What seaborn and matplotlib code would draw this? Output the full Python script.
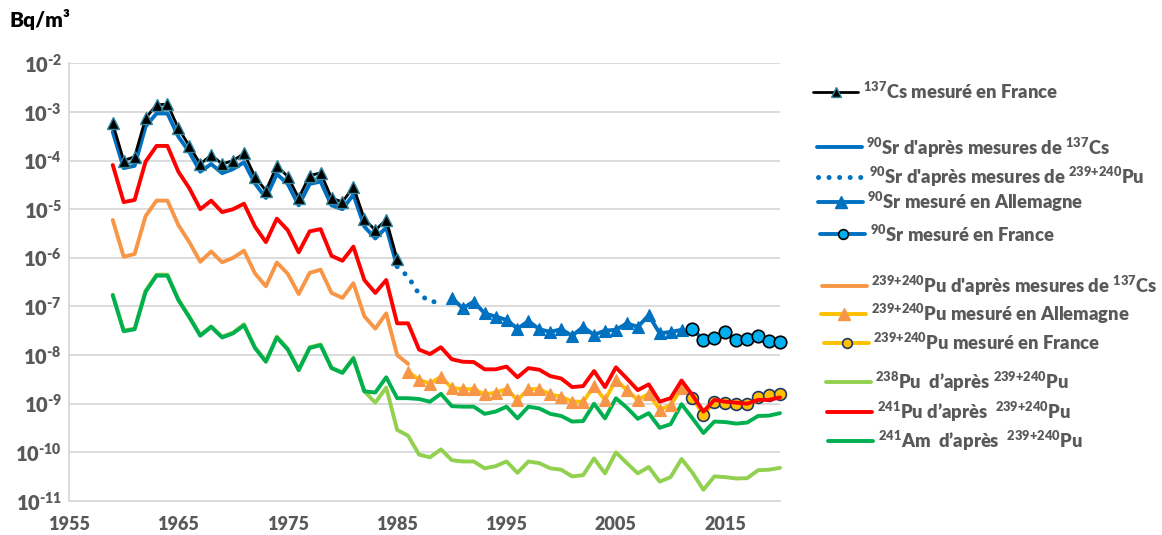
import numpy as np
import pandas as pd
import matplotlib
matplotlib.use("Agg")
import matplotlib.pyplot as plt
from matplotlib.lines import Line2D
import seaborn as sns

# ---------------- data ----------------
years_cs = list(range(1959, 1986))
cs137_france = [5.8e-4, 1.0e-4, 1.2e-4, 7.4e-4, 1.4e-3, 1.45e-3, 4.6e-4, 2.0e-4, 8.5e-5, 1.3e-4,
                8.5e-5, 1.0e-4, 1.4e-4, 4.7e-5, 2.4e-5, 7.8e-5, 4.7e-5, 1.7e-5, 4.9e-5, 5.6e-5,
                1.7e-5, 1.4e-5, 2.9e-5, 6.3e-6, 3.7e-6, 6.1e-6, 9.3e-7]
sr90_from_cs = [3.9e-4, 7.0e-5, 7.8e-5, 5.0e-4, 9.3e-4, 9.3e-4, 3.1e-4, 1.5e-4, 5.9e-5, 8.5e-5,
                5.5e-5, 6.7e-5, 9.2e-5, 3.4e-5, 1.7e-5, 5.3e-5, 3.3e-5, 1.2e-5, 3.3e-5, 3.7e-5,
                1.2e-5, 1.0e-5, 2.0e-5, 4.4e-6, 2.5e-6, 4.2e-6, 6.6e-7]

years_sr_pu = list(range(1985, 1990))
sr90_from_pu = [6.6e-7, 4.1e-7, 1.8e-7, 1.25e-7, 1.25e-7]

years_de = list(range(1990, 2012))
sr90_germany = [1.5e-7, 9.2e-8, 1.26e-7, 7.2e-8, 6.2e-8, 5.3e-8, 3.5e-8, 5.0e-8, 3.4e-8, 3.0e-8,
                3.4e-8, 2.5e-8, 3.8e-8, 2.6e-8, 3.2e-8, 3.3e-8, 4.5e-8, 3.8e-8, 6.6e-8, 2.8e-8,
                3.0e-8, 3.3e-8]

years_fr = list(range(2012, 2021))
sr90_france = [3.5e-8, 2.0e-8, 2.3e-8, 3.0e-8, 2.0e-8, 2.1e-8, 2.5e-8, 1.95e-8, 1.9e-8]

years_pu_cs = list(range(1959, 1987))
pu_from_cs = [6.0e-6, 1.05e-6, 1.2e-6, 7.2e-6, 1.5e-5, 1.5e-5, 4.7e-6, 2.1e-6, 8.3e-7, 1.35e-6,
              8.1e-7, 1.0e-6, 1.4e-6, 4.8e-7, 2.6e-7, 8.0e-7, 4.7e-7, 1.8e-7, 4.9e-7, 5.7e-7,
              1.9e-7, 1.5e-7, 3.0e-7, 6.3e-8, 3.5e-8, 7.2e-8, 1.0e-8, 6.6e-9]

years_pu_de = list(range(1986, 2012))
pu_germany = [4.6e-9, 3.1e-9, 2.6e-9, 3.6e-9, 2.1e-9, 2.0e-9, 2.0e-9, 1.55e-9, 1.7e-9, 2.0e-9,
              1.2e-9, 2.0e-9, 2.0e-9, 1.55e-9, 1.4e-9, 1.1e-9, 1.1e-9, 2.3e-9, 1.2e-9, 3.1e-9,
              1.9e-9, 1.2e-9, 1.6e-9, 7.6e-10, 9.3e-10, 2.1e-9]

pu_france = [1.3e-9, 5.9e-10, 1.1e-9, 1.05e-9, 9.8e-10, 9.8e-10, 1.4e-9, 1.5e-9, 1.6e-9]

years_all = list(range(1959, 2021))
pu241 = [8.1e-5, 1.4e-5, 1.55e-5, 9.5e-5, 2.0e-4, 2.0e-4, 5.9e-5, 2.7e-5, 1.0e-5, 1.5e-5,
         8.7e-6, 1.0e-5, 1.3e-5, 4.4e-6, 2.1e-6, 6.4e-6, 3.7e-6, 1.3e-6, 3.5e-6, 3.9e-6,
         1.1e-6, 8.7e-7, 1.7e-6, 3.5e-7, 1.9e-7, 3.5e-7, 4.5e-8,
         4.5e-8, 1.3e-8, 1.05e-8, 1.45e-8, 8.2e-9, 7.3e-9, 7.2e-9, 5.1e-9, 5.1e-9, 5.8e-9,
         3.5e-9, 5.4e-9, 5.0e-9, 3.7e-9, 3.3e-9, 2.2e-9, 2.3e-9, 4.7e-9, 2.2e-9, 5.6e-9,
         3.3e-9, 1.9e-9, 2.5e-9, 1.1e-9, 1.3e-9, 3.0e-9, 1.5e-9, 6.9e-10, 1.2e-9, 1.1e-9,
         1.05e-9, 1.0e-9, 1.2e-9, 1.2e-9, 1.35e-9]
am241 = [1.7e-7, 3.1e-8, 3.4e-8, 2.0e-7, 4.3e-7, 4.3e-7, 1.35e-7, 6.0e-8, 2.5e-8, 3.8e-8,
         2.3e-8, 2.8e-8, 4.1e-8, 1.4e-8, 7.3e-9, 2.3e-8, 1.3e-8, 4.9e-9, 1.4e-8, 1.6e-8,
         5.4e-9, 4.3e-9, 8.5e-9,
         1.8e-9, 1.7e-9, 3.5e-9, 1.3e-9, 1.3e-9, 1.25e-9, 1.1e-9, 1.6e-9, 8.9e-10, 8.7e-10,
         8.7e-10, 6.2e-10, 6.9e-10, 8.7e-10, 5.0e-10, 8.7e-10, 8.0e-10, 6.2e-10, 5.6e-10, 4.3e-10,
         4.4e-10, 1.0e-9, 5.0e-10, 1.3e-9, 8.3e-10, 4.9e-10, 6.4e-10, 3.2e-10, 3.8e-10, 9.8e-10,
         5.0e-10, 2.5e-10, 4.3e-10, 4.2e-10, 3.9e-10, 4.1e-10, 5.6e-10, 5.7e-10, 6.4e-10]
pu238 = [1.75e-7, 3.2e-8, 3.5e-8, 2.1e-7, 4.5e-7, 4.5e-7, 1.4e-7, 6.2e-8, 2.6e-8, 3.9e-8,
         2.4e-8, 2.9e-8, 4.3e-8, 1.45e-8, 7.5e-9, 2.4e-8, 1.35e-8, 5.0e-9, 1.45e-8, 1.65e-8,
         5.5e-9, 4.4e-9, 8.8e-9,
         1.8e-9, 1.05e-9, 2.15e-9, 2.9e-10, 2.2e-10, 9.0e-11, 7.9e-11, 1.15e-10, 6.9e-11, 6.5e-11,
         6.5e-11, 4.7e-11, 5.2e-11, 6.5e-11, 3.8e-11, 6.5e-11, 6.0e-11, 4.7e-11, 4.4e-11, 3.2e-11,
         3.4e-11, 7.5e-11, 3.7e-11, 1.0e-10, 6.0e-11, 3.7e-11, 5.0e-11, 2.5e-11, 3.1e-11, 7.3e-11,
         3.8e-11, 1.7e-11, 3.2e-11, 3.1e-11, 2.9e-11, 2.95e-11, 4.3e-11, 4.4e-11, 4.8e-11]

x_ticks = [1955, 1965, 1975, 1985, 1995, 2005, 2015]
y_exponents = [-2, -3, -4, -5, -6, -7, -8, -9, -10, -11]

legend_labels = [
    r"$^{137}$Cs mesuré en France",
    r"$^{90}$Sr d'après mesures de $^{137}$Cs",
    r"$^{90}$Sr d'après mesures de $^{239{+}240}$Pu",
    r"$^{90}$Sr mesuré en Allemagne",
    r"$^{90}$Sr mesuré en France",
    r"$^{239{+}240}$Pu d'après mesures de $^{137}$Cs",
    r"$^{239{+}240}$Pu mesuré en Allemagne",
    r"$^{239{+}240}$Pu mesuré en France",
    r"$^{238}$Pu  d’après $^{239{+}240}$Pu",
    r"$^{241}$Pu d’après  $^{239{+}240}$Pu",
    r"$^{241}$Am  d’après  $^{239{+}240}$Pu",
]

# ---------------- style ----------------
sns.set_style("white")
FONT = 'Lato'
WEIGHT = 'heavy'
plt.rcParams['font.family'] = [FONT, 'DejaVu Sans']
plt.rcParams['font.weight'] = WEIGHT
plt.rcParams['mathtext.fontset'] = 'custom'
for k in ['rm', 'it', 'bf', 'sf']:
    plt.rcParams['mathtext.' + k] = FONT + ':bold'
plt.rcParams['mathtext.default'] = 'regular'

GRAY = '#595959'
GRID = '#D9D9D9'
W, H = 1162, 535

fig = plt.figure(figsize=(W / 100, H / 100), dpi=100)
ax = fig.add_axes([69 / W, 1 - 501 / H, (780 - 69) / W, (501 - 63.3) / H])

def series(xs, ys):
    return pd.DataFrame({"year": xs, "value": ys})

common = dict(x="year", y="value", ax=ax, estimator=None, sort=False, errorbar=None,
              clip_on=False, solid_joinstyle='round', solid_capstyle='round')

# draw order (back to front)
sns.lineplot(data=series(years_all, pu238), color='#92D050', lw=2.8, **common)
sns.lineplot(data=series(years_all, am241), color='#00B050', lw=2.8, **common)
sns.lineplot(data=series(years_pu_cs, pu_from_cs), color='#F79646', lw=2.8, **common)
sns.lineplot(data=series(years_pu_de, pu_germany), color='#FFC000', lw=2.8,
             marker='^', markersize=9, markerfacecolor='#F79646',
             markeredgecolor='#F79646', markeredgewidth=0.8, **common)
sns.lineplot(data=series(years_fr, pu_france), color='#FFC000', lw=2.8,
             marker='o', markersize=8.5, markerfacecolor='#FFC000',
             markeredgecolor='#1F3864', markeredgewidth=1.2, **common)
sns.lineplot(data=series(years_all, pu241), color='#FF0000', lw=2.8, **common)
sns.lineplot(data=series(years_cs, sr90_from_cs), color='#0070C0', lw=2.8, **common)
sns.lineplot(data=series(years_sr_pu, sr90_from_pu), color='#0070C0', lw=3.6,
             dashes=[0.01, 2.1], dash_capstyle='round', **common)
sns.lineplot(data=series(years_de, sr90_germany), color='#0070C0', lw=2.8,
             marker='^', markersize=9, markerfacecolor='#0070C0',
             markeredgecolor='#0070C0', markeredgewidth=0.8, **common)
sns.lineplot(data=series(years_fr, sr90_france), color='#0070C0', lw=2.8,
             marker='o', markersize=9, markerfacecolor='#00B0F0',
             markeredgecolor='black', markeredgewidth=1.2, **common)
sns.lineplot(data=series(years_cs, cs137_france), color='black', lw=2.0,
             marker='^', markersize=9, markerfacecolor='black',
             markeredgecolor='#31859C', markeredgewidth=1.0, **common)

# ---------------- axes ----------------
ax.set_yscale('log')
ax.set_ylim(1e-11, 1e-2)
ax.set_xlim(1955, 2020)
ax.set_xlabel('')
ax.set_ylabel('')
ax.set_yticks([10.0 ** e for e in y_exponents])
ax.set_yticklabels(["$10^{\u2010%d}$" % (-e) for e in y_exponents])
ax.yaxis.set_minor_locator(matplotlib.ticker.NullLocator())
ax.set_xticks(x_ticks)
ax.set_xticklabels([str(t) for t in x_ticks])
ax.tick_params(axis='y', length=0, pad=5, labelsize=14.5, labelcolor=GRAY)
ax.tick_params(axis='x', direction='in', length=7, width=1.2, color=GRID,
               pad=11, labelsize=13, labelcolor=GRAY)
for lab in ax.get_xticklabels() + ax.get_yticklabels():
    lab.set_fontweight(WEIGHT)
ax.yaxis.grid(True, color=GRID, lw=1.3)
ax.xaxis.grid(False)
for side in ['top', 'right']:
    ax.spines[side].set_visible(False)
for side in ['left', 'bottom']:
    ax.spines[side].set_color(GRID)
    ax.spines[side].set_linewidth(1.3)
ax.set_axisbelow(True)

fig.text(10 / W, 1 - 20 / H, "Bq/m³", fontsize=15, fontweight=WEIGHT, color='black',
         va='center', ha='left')

# ---------------- legend (hand-placed like the original) ----------------
entries = [
    # y, x0, text_x, style
    (91.7, 813, 863, dict(color='black', lw=2.0, marker='^', ms=7, mfc='black', mec='#31859C')),
    (147.3, 817, 866, dict(color='#0070C0', lw=2.8)),
    (176.7, 818, 869, dict(color='#0070C0', lw=3.6, dashes=[0.01, 2.1], dash_capstyle='round')),
    (201.7, 818, 867, dict(color='#0070C0', lw=2.8, marker='^', ms=8, mfc='#0070C0', mec='#0070C0')),
    (234.3, 820, 870, dict(color='#0070C0', lw=2.8, marker='o', ms=7, mfc='#00B0F0', mec='black', mew=1.2)),
    (285.7, 822, 871, dict(color='#F79646', lw=2.8)),
    (314.0, 821, 871, dict(color='#FFC000', lw=2.8, marker='^', ms=8, mfc='#F79646', mec='#F79646')),
    (343.3, 824, 873, dict(color='#FFC000', lw=2.8, marker='o', ms=7, mfc='#FFC000', mec='#1F3864', mew=1.2)),
    (381.7, 826, 875, dict(color='#92D050', lw=2.8)),
    (411.7, 827, 877, dict(color='#FF0000', lw=2.8)),
    (440.7, 828, 878, dict(color='#00B050', lw=2.8)),
]
for (yy, x0, tx, st), label in zip(entries, legend_labels):
    x1 = x0 + 45
    xm = (x0 + x1) / 2
    yf = 1 - yy / H
    ln = Line2D([x0 / W, xm / W, x1 / W], [yf, yf, yf], transform=fig.transFigure,
                markevery=[1], solid_capstyle='round', **st)
    fig.add_artist(ln)
    fig.text(tx / W, 1 - (yy + 7) / H, label, fontsize=13.2, fontweight=WEIGHT,
             color=GRAY, va='baseline', ha='left')

fig.savefig("out.png", dpi=100)
